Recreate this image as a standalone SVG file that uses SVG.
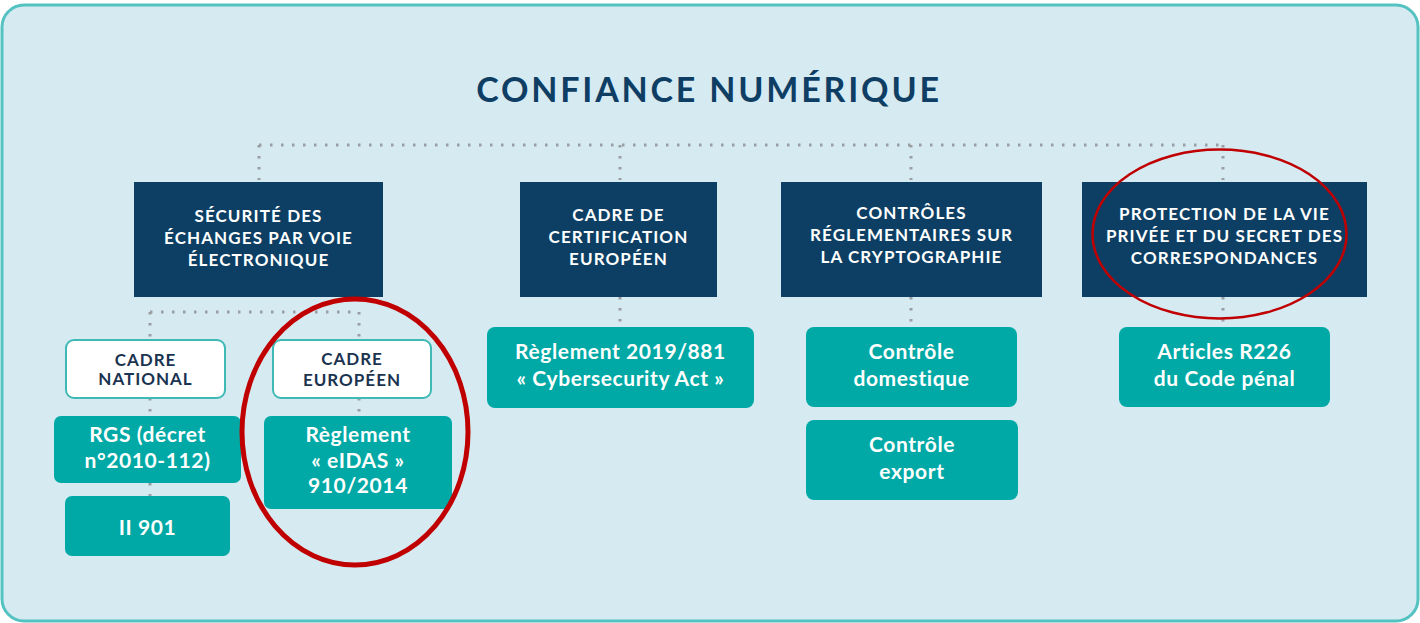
<svg xmlns="http://www.w3.org/2000/svg" width="1420" height="623" viewBox="0 0 1420 623">
  <style>
    .frame { fill: #d6eaf2; stroke: #55c2c2; stroke-width: 3; }
    .title { font-family: Lato, "Open Sans", "Liberation Sans", sans-serif; font-weight: 700; font-size: 34px; fill: #0e3e64; letter-spacing: 2.8px; }
    .head rect { fill: #0d3f65; }
    .head text { font-family: Lato, "Open Sans", "Liberation Sans", sans-serif; font-weight: 700; font-size: 17px; fill: #ffffff; text-anchor: middle; letter-spacing: 1.1px; }
    .sub rect { fill: #ffffff; stroke: #3fb9b5; stroke-width: 2; }
    .sub text { font-family: Lato, "Open Sans", "Liberation Sans", sans-serif; font-weight: 700; font-size: 17px; fill: #1a3350; text-anchor: middle; letter-spacing: 1px; }
    .leaf rect { fill: #00a9a5; }
    .leaf text { font-family: Lato, "Open Sans", "Liberation Sans", sans-serif; font-weight: 700; font-size: 21px; fill: #ffffff; text-anchor: middle; letter-spacing: 0.6px; }
    .links path { fill: none; stroke: #9a9ea3; stroke-width: 3; stroke-dasharray: 2.5 8.5; }
    .mark { fill: none; stroke: #c00000; }
  </style>

  <!-- panel background -->
  <rect class="frame" x="2" y="5" width="1416" height="616" rx="22" ry="22"/>

  <text class="title" x="709" y="102" text-anchor="middle">CONFIANCE NUMÉRIQUE</text>

  <!-- dotted connectors -->
  <g id="connectors" class="links">
    <path d="M259 145 H1223"/>
    <path d="M259 145 V180"/>
    <path d="M620 145 V180"/>
    <path d="M911 145 V180"/>
    <path d="M1223 145 V180"/>
    <path d="M620 297 V326"/>
    <path d="M911 297 V326"/>
    <path d="M1223 297 V326"/>
    <path d="M150 312 H359"/>
    <path d="M150 312 V338"/>
    <path d="M359 312 V338"/>
    <path d="M150 398 V416"/>
    <path d="M359 398 V416"/>
    <path d="M150 483 V496"/>
  </g>

  <!-- top-level headings -->
  <g id="securite" class="head">
    <rect x="134" y="182" width="249" height="115"/>
    <text x="258.5" y="222">SÉCURITÉ DES</text>
    <text x="258.5" y="244">ÉCHANGES PAR VOIE</text>
    <text x="258.5" y="266">ÉLECTRONIQUE</text>
  </g>
  <g id="certification" class="head">
    <rect x="520" y="182" width="197" height="115"/>
    <text x="618.5" y="221">CADRE DE</text>
    <text x="618.5" y="243">CERTIFICATION</text>
    <text x="618.5" y="265">EUROPÉEN</text>
  </g>
  <g id="cryptographie" class="head">
    <rect x="781" y="182" width="261" height="115"/>
    <text x="911.5" y="219">CONTRÔLES</text>
    <text x="911.5" y="241">RÉGLEMENTAIRES SUR</text>
    <text x="911.5" y="263">LA CRYPTOGRAPHIE</text>
  </g>
  <g id="vie-privee" class="head">
    <rect x="1082" y="182" width="285" height="115"/>
    <text x="1224.5" y="220">PROTECTION DE LA VIE</text>
    <text x="1224.5" y="242">PRIVÉE ET DU SECRET DES</text>
    <text x="1224.5" y="264">CORRESPONDANCES</text>
  </g>

  <!-- national / european frameworks -->
  <g id="cadre-national" class="sub">
    <rect x="66" y="340" width="159" height="58" rx="8" ry="8"/>
    <text x="145.5" y="366">CADRE</text>
    <text x="145.5" y="385">NATIONAL</text>
  </g>
  <g id="cadre-europeen" class="sub">
    <rect x="273" y="340" width="158" height="58" rx="8" ry="8"/>
    <text x="352" y="365">CADRE</text>
    <text x="352" y="386">EUROPÉEN</text>
  </g>

  <!-- texts of reference -->
  <g id="rgs" class="leaf">
    <rect x="54" y="416" width="187" height="67" rx="7" ry="7"/>
    <text x="147.5" y="442">RGS (décret</text>
    <text x="147.5" y="468">n°2010-112)</text>
  </g>
  <g id="ii901" class="leaf">
    <rect x="65" y="496" width="165" height="60" rx="7" ry="7"/>
    <text x="147.5" y="535">II 901</text>
  </g>
  <g id="eidas" class="leaf">
    <rect x="264" y="416" width="188" height="93" rx="7" ry="7"/>
    <text x="358" y="442">Règlement</text>
    <text x="358" y="468">« eIDAS »</text>
    <text x="358" y="493">910/2014</text>
  </g>
  <g id="cybersecurity-act" class="leaf">
    <rect x="487" y="327" width="267" height="81" rx="8" ry="8"/>
    <text x="620.5" y="359">Règlement 2019/881</text>
    <text x="620.5" y="386">« Cybersecurity Act »</text>
  </g>
  <g id="controle-domestique" class="leaf">
    <rect x="806" y="327" width="211" height="80" rx="8" ry="8"/>
    <text x="911.5" y="359">Contrôle</text>
    <text x="911.5" y="386">domestique</text>
  </g>
  <g id="controle-export" class="leaf">
    <rect x="806" y="420" width="212" height="80" rx="8" ry="8"/>
    <text x="912" y="452">Contrôle</text>
    <text x="912" y="479">export</text>
  </g>
  <g id="code-penal" class="leaf">
    <rect x="1119" y="327" width="211" height="80" rx="8" ry="8"/>
    <text x="1224.5" y="359">Articles R226</text>
    <text x="1224.5" y="386">du Code pénal</text>
  </g>

  <!-- red highlight rings -->
  <ellipse class="mark" cx="355" cy="432" rx="113" ry="133" stroke-width="5"/>
  <ellipse class="mark" cx="1219.5" cy="234" rx="127" ry="84.5" stroke-width="2.5"/>
</svg>
